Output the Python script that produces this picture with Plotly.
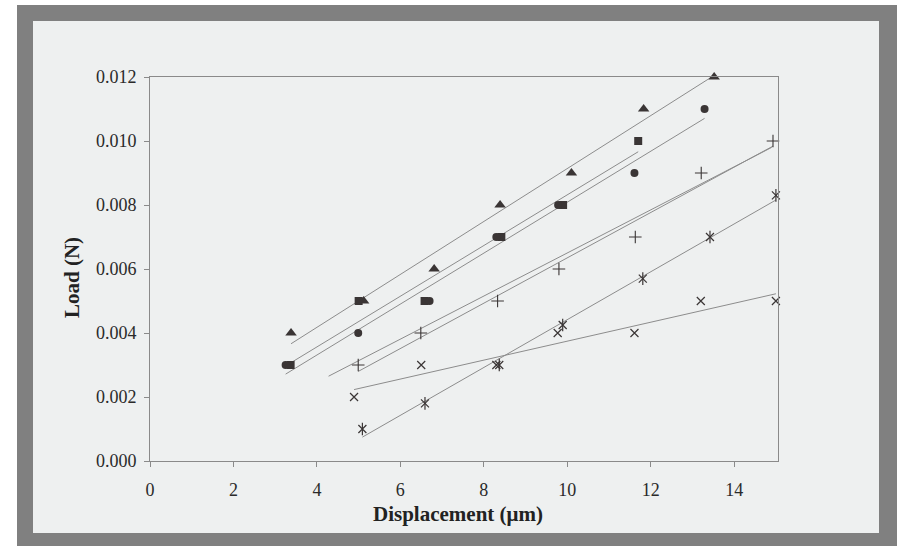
import numpy as np
import plotly.graph_objects as go

# ---------------- data ----------------
tri_x = [3.38, 5.12, 6.81, 8.39, 10.10, 11.83, 13.52]
tri_y = [0.0040, 0.0050, 0.0060, 0.0080, 0.0090, 0.0110, 0.0120]

sq_x = [3.37, 5.00, 6.58, 8.42, 9.90, 11.70]
sq_y = [0.0030, 0.0050, 0.0050, 0.0070, 0.0080, 0.0100]

circ_x = [3.25, 4.99, 6.70, 8.30, 9.78, 11.61, 13.29]
circ_y = [0.0030, 0.0040, 0.0050, 0.0070, 0.0080, 0.0090, 0.0110]

plus_x = [4.99, 6.49, 8.33, 9.80, 11.63, 13.21, 14.93]
plus_y = [0.0030, 0.0040, 0.0050, 0.0060, 0.0070, 0.0090, 0.0100]

ast_x = [5.09, 6.59, 8.37, 9.89, 11.81, 13.42, 15.00]
ast_y = [0.0010, 0.0018, 0.0030, 0.00425, 0.0057, 0.0070, 0.0083]

cross_x = [4.89, 6.50, 8.30, 9.77, 11.61, 13.20, 15.00]
cross_y = [0.0020, 0.0030, 0.0030, 0.0040, 0.0040, 0.0050, 0.0050]

# extra straight line drawn next to the "+" series in the original
extra_line_x = [4.28, 14.90]
extra_line_y = [0.00265, 0.00980]

x_ticks = [0, 2, 4, 6, 8, 10, 12, 14]
y_ticks = [0.000, 0.002, 0.004, 0.006, 0.008, 0.010, 0.012]
y_tick_text = ["0.000", "0.002", "0.004", "0.006", "0.008", "0.010", "0.012"]

x_title = "Displacement (μm)"
y_title = "Load (N)"

# ---------------- styling ----------------
W, H = 897, 546
ML, MT = 150, 77
PW, PH = 628, 384
MR = W - ML - PW
MB = H - MT - PH

MARK = "#3a3535"
LINE = "#8c8c8c"
FONT = "Liberation Serif"


def px(xp):
    return (xp - ML) / PW


def py(yp):
    return (MT + PH - yp) / PH


fig = go.Figure()


def fit_line(xs, ys):
    k, b = np.polyfit(xs, ys, 1)
    xx = np.array([min(xs), max(xs)])
    return xx, k * xx + b


for xs, ys in [(tri_x, tri_y), (sq_x, sq_y), (circ_x, circ_y),
               (plus_x, plus_y), (ast_x, ast_y), (cross_x, cross_y)]:
    lx, ly = fit_line(xs, ys)
    fig.add_trace(go.Scatter(x=lx, y=ly, mode="lines", cliponaxis=False,
                             line=dict(color=LINE, width=1), hoverinfo="skip"))

fig.add_trace(go.Scatter(x=extra_line_x, y=extra_line_y, mode="lines",
                         line=dict(color=LINE, width=1), hoverinfo="skip"))

marker_traces = [
    (tri_x, tri_y, dict(symbol="triangle-up", size=10, color=MARK)),
    (sq_x, sq_y, dict(symbol="square", size=8, color=MARK)),
    (circ_x, circ_y, dict(symbol="circle", size=8, color=MARK)),
    (plus_x, plus_y, dict(symbol="cross-thin", size=9,
                          line=dict(color=MARK, width=1.1))),
    (ast_x, ast_y, dict(symbol="x-thin", size=8,
                        line=dict(color=MARK, width=1.2))),
    (ast_x, ast_y, dict(symbol="line-ns", size=9,
                        line=dict(color=MARK, width=1.2))),
    (cross_x, cross_y, dict(symbol="x-thin", size=8,
                            line=dict(color=MARK, width=1.2))),
]
for xs, ys, mk in marker_traces:
    fig.add_trace(go.Scatter(x=xs, y=ys, mode="markers", cliponaxis=False,
                             marker=mk))

shapes = [
    dict(type="rect", xref="paper", yref="paper", layer="below",
         x0=px(17), x1=px(897), y0=py(546), y1=py(5),
         fillcolor="#808080", line=dict(width=0)),
    dict(type="rect", xref="paper", yref="paper", layer="below",
         x0=px(33), x1=px(879), y0=py(533), y1=py(21),
         fillcolor="#eef0f0", line=dict(width=0)),
]

annotations = [
    dict(text=f"<b>{y_title}</b>", xref="paper", yref="paper",
         x=px(72), y=py(278), showarrow=False, textangle=-90,
         font=dict(family=FONT, size=21, color="#222222"),
         xanchor="center", yanchor="middle"),
    dict(text=f"<b>{x_title}</b>", xref="paper", yref="paper",
         x=px(458), y=py(514), showarrow=False,
         font=dict(family=FONT, size=21, color="#222222"),
         xanchor="center", yanchor="middle"),
]

fig.update_layout(
    width=W, height=H,
    margin=dict(l=ML, r=MR, t=MT, b=MB, pad=0),
    paper_bgcolor="white", plot_bgcolor="rgba(0,0,0,0)",
    showlegend=False,
    shapes=shapes, annotations=annotations,
    font=dict(family=FONT, size=18, color="#2a2a2a"),
)
fig.update_xaxes(range=[0, 15.05], tickvals=x_ticks, ticktext=[str(v) for v in x_ticks],
                 showgrid=False, zeroline=False, showline=True, mirror=True,
                 linecolor="#8a8a8a", linewidth=1, ticks="outside", ticklen=5,
                 tickcolor="#8a8a8a", ticklabelstandoff=7,
                 tickfont=dict(family=FONT, size=18, color="#2a2a2a"))
fig.update_yaxes(range=[0, 0.012], tickvals=y_ticks, ticktext=y_tick_text,
                 showgrid=False, zeroline=False, showline=True, mirror=True,
                 linecolor="#8a8a8a", linewidth=1, ticks="outside", ticklen=5,
                 tickcolor="#8a8a8a", ticklabelstandoff=4,
                 tickfont=dict(family=FONT, size=18, color="#2a2a2a"))

fig.write_html("out.html")
